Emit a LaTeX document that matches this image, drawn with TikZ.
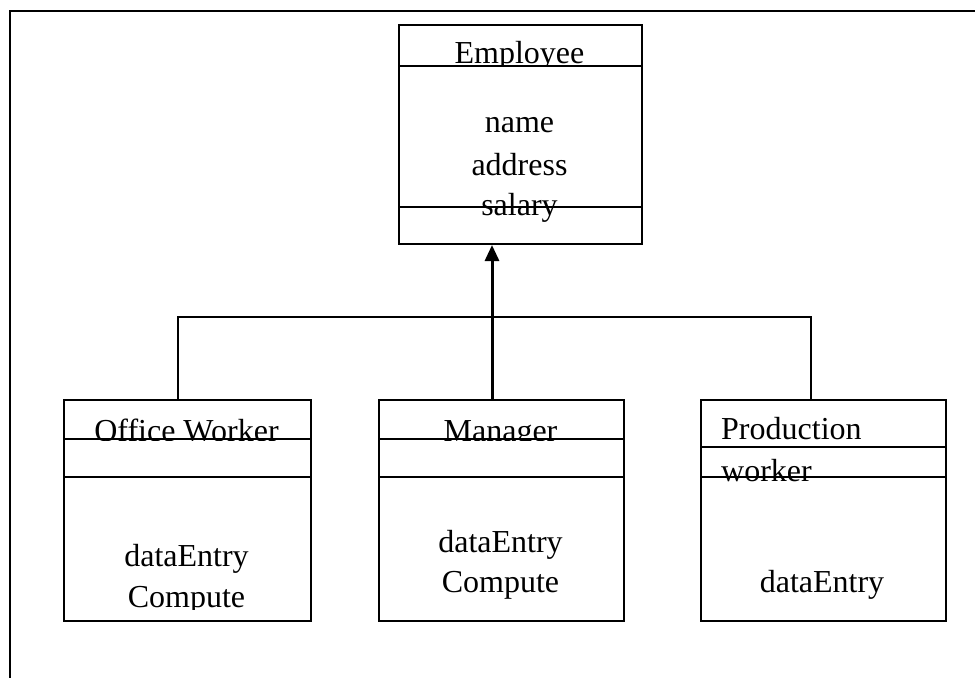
\documentclass[tikz,border=0pt]{standalone}
\usepackage{fontspec}
\setmainfont{Liberation Serif}
\usetikzlibrary{arrows.meta}
\begin{document}
\begin{tikzpicture}[x=1pt,y=-1pt,
  classbox/.style={draw, line width=2pt, rectangle, inner sep=0pt, anchor=north west},
  divider/.style={line width=2pt},
  link/.style={line width=2pt},
  inherit/.style={line width=3pt, -{Triangle[length=16pt,width=14pt]}},
  frame/.style={line width=2.5pt},
  lbl/.style={inner sep=0pt, anchor=base, font=\fontsize{32}{40}\selectfont},
  lblw/.style={lbl, anchor=base west}]
\useasboundingbox (0,0) rectangle (975,678);

% outer frame: top and left edges only
\draw[frame] (975,11) -- (10,11) -- (10,678);

% class boxes
\node[classbox, minimum width=243pt, minimum height=219pt] (emp) at (398,24) {};
\node[classbox, minimum width=247pt, minimum height=221pt] (ow) at (63,399) {};
\node[classbox, minimum width=245pt, minimum height=221pt] (mgr) at (378,399) {};
\node[classbox, minimum width=245pt, minimum height=221pt] (pw) at (700,399) {};

% Employee
\begin{scope}
  \clip (398,24) rectangle (641,66);
  \node[lbl] (empT) at (519.5,63) {Employee};
\end{scope}
\node[lbl] (empA1) at (519.5,132) {name};
\node[lbl] (empA2) at (519.5,175) {address};
\node[lbl] (empA3) at (519.5,215) {salary};
\draw[divider] (emp.west |- 0,66) -- (emp.east |- 0,66);
\draw[divider] (emp.west |- 0,207) -- (emp.east |- 0,207);

% Office Worker
\begin{scope}
  \clip (63,399) rectangle (310,440);
  \node[lbl] (owT) at (186.5,441) {Office Worker};
\end{scope}
\begin{scope}
  \clip (63,477) rectangle (310,609);
  \node[lbl] (owM1) at (186.5,566) {dataEntry};
  \node[lbl] (owM2) at (186.5,607) {Compute};
\end{scope}
\draw[divider] (ow.west |- 0,439) -- (ow.east |- 0,439);
\draw[divider] (ow.west |- 0,477) -- (ow.east |- 0,477);

% Manager
\begin{scope}
  \clip (378,399) rectangle (623,440);
  \node[lbl] (mgrT) at (500.5,441) {Manager};
\end{scope}
\node[lbl] (mgrM1) at (500.5,552) {dataEntry};
\node[lbl] (mgrM2) at (500.5,592) {Compute};
\draw[divider] (mgr.west |- 0,439) -- (mgr.east |- 0,439);
\draw[divider] (mgr.west |- 0,477) -- (mgr.east |- 0,477);

% Production worker
\node[lblw] (pwT1) at (721,439) {Production};
\begin{scope}
  \clip (700,447) rectangle (945,483);
  \node[lblw] (pwT2) at (721,481) {worker};
\end{scope}
\node[lbl] (pwM1) at (822,592) {dataEntry};
\draw[divider] (pw.west |- 0,447) -- (pw.east |- 0,447);
\draw[divider] (pw.west |- 0,477) -- (pw.east |- 0,477);

% generalisation connectors
\coordinate (jL) at (178,317);
\coordinate (jR) at (811,317);
\coordinate (jM) at (492,317);
\draw[link] (jL |- ow.north) -- (jL) -- (jR) -- (jR |- pw.north);
\draw[inherit] (jM |- mgr.north) -- (jM |- emp.south);
\end{tikzpicture}
\end{document}
